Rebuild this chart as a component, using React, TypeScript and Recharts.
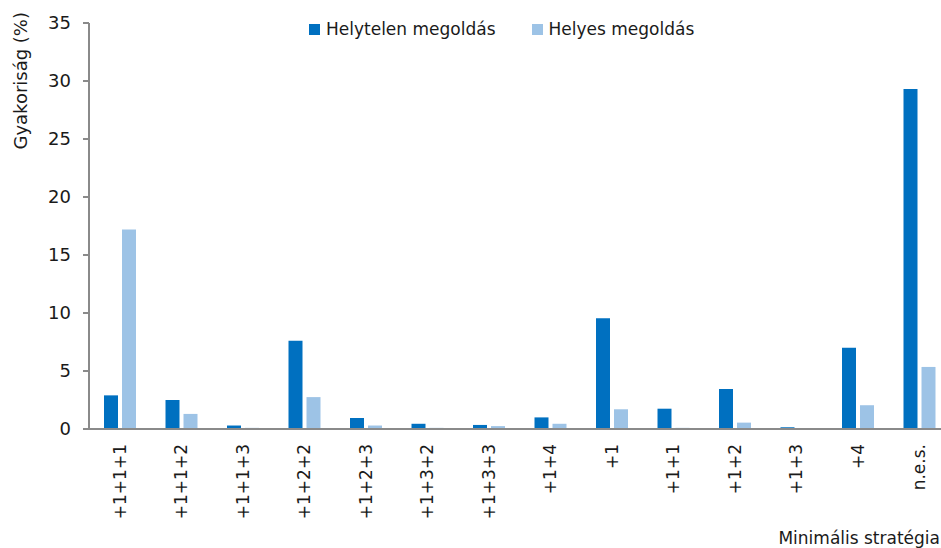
import React from 'react';
import { BarChart, Bar, XAxis, YAxis, Legend, Label } from 'recharts';

// Minimális stratégia kategóriák
const CATEGORIES = [
  '+1+1+1',
  '+1+1+2',
  '+1+1+3',
  '+1+2+2',
  '+1+2+3',
  '+1+3+2',
  '+1+3+3',
  '+1+4',
  '+1',
  '+1+1',
  '+1+2',
  '+1+3',
  '+4',
  'n.e.s.',
];

// Gyakoriság (%)
const HELYTELEN = [2.9, 2.5, 0.3, 7.6, 0.95, 0.45, 0.35, 1.0, 9.55, 1.75, 3.45, 0.15, 7.0, 29.3];
const HELYES = [17.2, 1.3, 0.1, 2.75, 0.3, 0.1, 0.25, 0.45, 1.7, 0.1, 0.55, 0, 2.05, 5.35];

const Y_TICKS = [0, 5, 10, 15, 20, 25, 30, 35];
const BOUNDARY_TICKS = CATEGORIES.map((_, i) => i).concat(CATEGORIES.length);
const SERIES_ORDER = ['helytelen', 'helyes'];

const DATA = CATEGORIES.map((name, i) => ({
  name,
  idx: i,
  helytelen: HELYTELEN[i],
  helyes: HELYES[i],
}));

const FONT = '"DejaVu Sans", Verdana, sans-serif';
const AXIS_COLOR = '#8a8a8a';
const TEXT_COLOR = '#1a1a1a';

function CategoryTick(props: any) {
  const { x, y, payload } = props;
  const ty = y + 6;
  return (
    <text
      x={x}
      y={ty}
      dy="0.36em"
      transform={`rotate(-90, ${x}, ${ty})`}
      textAnchor="end"
      fontFamily={FONT}
      fontSize={17}
      fill={TEXT_COLOR}
    >
      {payload.value}
    </text>
  );
}

function renderLegend(props: any) {
  const payload = [...(props.payload || [])].sort(
    (a: any, b: any) => SERIES_ORDER.indexOf(a.dataKey) - SERIES_ORDER.indexOf(b.dataKey)
  );
  return (
    <div style={{ display: 'flex', fontFamily: FONT, fontSize: 17, color: TEXT_COLOR, lineHeight: '17px' }}>
      {payload.map((entry: any, i: number) => (
        <div key={`leg-${i}`} style={{ display: 'flex', alignItems: 'center', marginRight: 36 }}>
          <div style={{ width: 11, height: 11, background: entry.color, marginRight: 6 }} />
          <span>{entry.value}</span>
        </div>
      ))}
    </div>
  );
}

export default function App() {
  return (
    <div style={{ position: 'absolute', left: 0, top: 0, width: 941, height: 548, overflow: 'hidden', background: '#fff' }}>
      <BarChart
        width={950}
        height={548}
        data={DATA}
        margin={{ top: 23, right: 0, left: 0, bottom: 0 }}
        barSize={14}
        barGap={4}
      >
        <XAxis
          xAxisId={0}
          dataKey="idx"
          type="number"
          domain={[0, CATEGORIES.length]}
          allowDataOverflow
          ticks={BOUNDARY_TICKS}
          tick={false}
          height={1}
          stroke={AXIS_COLOR}
          strokeWidth={2}
          tickSize={6}
        />
        <XAxis
          xAxisId={1}
          dataKey="name"
          axisLine={false}
          tickLine={false}
          interval={0}
          height={118}
          tick={<CategoryTick />}
        >
          <Label
            content={() => (
              <text x={940} y={544} textAnchor="end" fontFamily={FONT} fontSize={17} fill={TEXT_COLOR}>
                Minimális stratégia
              </text>
            )}
          />
        </XAxis>
        <YAxis
          width={89}
          domain={[0, 35]}
          ticks={Y_TICKS}
          interval={0}
          stroke={AXIS_COLOR}
          strokeWidth={2}
          tickSize={6}
          tickMargin={12}
          tick={{ fill: TEXT_COLOR, fontFamily: FONT, fontSize: 18 }}
        >
          <Label
            content={() => (
              <text
                x={27}
                y={12}
                transform="rotate(-90, 27, 12)"
                textAnchor="end"
                fontFamily={FONT}
                fontSize={18}
                fill={TEXT_COLOR}
              >
                Gyakoriság (%)
              </text>
            )}
          />
        </YAxis>
        <Legend
          layout="horizontal"
          verticalAlign="middle"
          align="center"
          content={renderLegend}
          wrapperStyle={{ top: 21, left: 309, width: 'auto', bottom: 'auto' }}
        />
        <Bar xAxisId={1} dataKey="helytelen" name="Helytelen megoldás" fill="#0070c0" isAnimationActive={false} />
        <Bar xAxisId={1} dataKey="helyes" name="Helyes megoldás" fill="#9dc3e6" isAnimationActive={false} />
      </BarChart>
    </div>
  );
}
